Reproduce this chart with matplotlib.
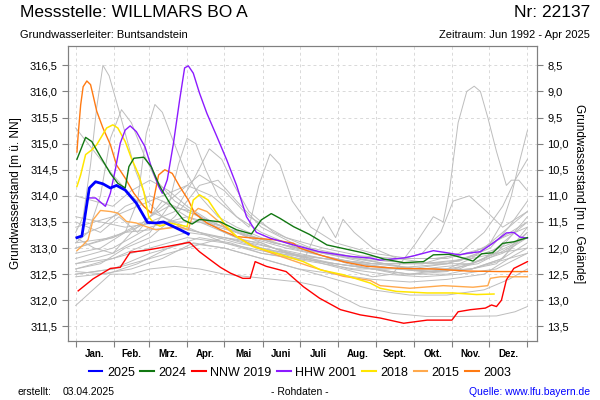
import numpy as np
import matplotlib
matplotlib.use("Agg")
import matplotlib.pyplot as plt

plt.rcParams['font.family'] = ['Liberation Sans', 'DejaVu Sans']

# Geländehöhe (m ü. NN) für die rechte Achse
gelaende = 325.0

monate = ["Jan.", "Feb.", "Mrz.", "Apr.", "Mai", "Juni", "Juli", "Aug.", "Sept.", "Okt.", "Nov.", "Dez."]
monatsgrenzen = [0, 31, 59, 90, 120, 151, 181, 212, 243, 273, 304, 334, 365]

# Hervorgehobene Jahre (Tag im Jahr, Wasserstand m ü. NN)
tage_2025 = [1, 5, 11, 16, 22, 28, 33, 40, 49, 58, 65, 71, 79, 86, 91]
werte_2025 = [313.20, 313.23, 314.15, 314.27, 314.23, 314.15, 314.20, 314.11, 313.86, 313.49, 313.48, 313.50, 313.41, 313.33, 313.27]

tage_2024 = [1, 8, 13, 20, 28, 34, 40, 43, 47, 55, 61, 68, 76, 87, 94, 100, 117, 130, 142, 150, 158, 165, 176, 189,
             203, 232, 249, 265, 281, 289, 302, 316, 321, 328, 337, 345, 354, 365]
werte_2024 = [314.70, 315.12, 315.04, 314.75, 314.43, 314.24, 314.15, 314.56, 314.72, 314.74, 314.56, 314.18, 313.86,
              313.54, 313.46, 313.55, 313.50, 313.35, 313.27, 313.54, 313.66, 313.57, 313.41, 313.26,
              313.06, 312.91, 312.79, 312.72, 312.74, 312.87, 312.88, 312.79, 312.75, 312.89, 312.91, 313.09, 313.12, 313.20]

tage_2019 = [2, 14, 28, 36, 44, 55, 74, 92, 100, 109, 117, 125, 135, 141, 145, 154, 170, 184, 197, 214, 230, 238,
             246, 265, 284, 304, 309, 319, 331, 336, 340, 344, 348, 354, 365]
werte_2019 = [312.18, 312.41, 312.61, 312.63, 312.92, 312.95, 313.03, 313.11, 312.93, 312.77, 312.63, 312.52, 312.42,
              312.42, 312.74, 312.65, 312.55, 312.26, 312.04, 311.82, 311.72, 311.69,
              311.66, 311.56, 311.62, 311.62, 311.78, 311.82, 311.85, 311.91, 311.88, 312.00, 312.39, 312.61, 312.74]

tage_2001 = [10, 16, 24, 28, 32, 36, 40, 44, 49, 56, 61, 67, 70, 74, 79, 84, 88, 91, 95, 100, 106, 114, 122, 130,
             138, 146, 157, 176, 197, 222, 238, 246, 265, 273, 289, 300, 310, 316, 327, 337, 348, 354, 359, 365]
werte_2001 = [313.96, 313.96, 313.80, 314.05, 314.50, 315.01, 315.26, 315.34, 315.23, 314.94, 314.56, 314.18, 314.05,
              314.31, 315.01, 315.84, 316.45, 316.49, 316.35, 315.97, 315.58, 315.14, 314.69, 314.20,
              313.60, 313.30, 313.19, 313.06, 312.93, 312.84, 312.81, 312.77, 312.81, 312.85, 312.95, 312.91, 312.87,
              312.90, 312.93, 313.09, 313.29, 313.30, 313.21, 313.19]

tage_2018 = [1, 4, 8, 13, 17, 21, 25, 30, 34, 40, 45, 51, 55, 59, 63, 68, 76, 84, 90, 95, 100, 107, 114, 122, 130,
             143, 162, 184, 198, 216, 238, 246, 259, 284, 305, 324, 338]
werte_2018 = [314.18, 314.40, 314.79, 314.88, 314.98, 315.14, 315.30, 315.36, 315.30, 315.04, 314.72, 314.40, 314.08,
              313.60, 313.48, 313.42, 313.48, 313.44, 313.41, 313.92, 314.02, 313.92, 313.67, 313.41, 313.22,
              313.03, 312.90, 312.74, 312.58, 312.49, 312.33, 312.23, 312.17, 312.14, 312.14, 312.11, 312.12]

tage_2015 = [1, 6, 10, 14, 20, 28, 34, 41, 49, 57, 65, 74, 84, 91, 95, 99, 106, 114, 130, 144, 162, 189, 216, 238,
             246, 270, 297, 321, 333, 335, 343, 356, 365]
werte_2015 = [312.95, 313.06, 313.16, 313.54, 313.72, 313.70, 313.67, 313.51, 313.48, 313.41, 313.35, 313.38, 313.41,
              313.35, 313.67, 313.76, 313.70, 313.54, 313.22, 313.03, 312.87, 312.65, 312.46, 312.38,
              312.28, 312.23, 312.28, 312.25, 312.28, 312.42, 312.45, 312.45, 312.45]

tage_2003 = [1, 2, 4, 6, 9, 12, 14, 17, 22, 28, 33, 40, 47, 55, 61, 64, 67, 72, 78, 84, 91, 96, 106, 117, 130, 144,
             160, 176, 181, 197, 216, 235, 262, 289, 316, 343, 365]
werte_2003 = [314.84, 315.17, 315.74, 316.09, 316.20, 316.13, 315.93, 315.62, 315.30, 314.98, 314.59, 314.34, 314.05,
              313.80, 313.67, 314.05, 314.40, 314.50, 314.43, 314.18, 313.92, 313.67, 313.48, 313.35, 313.22, 313.19,
              313.16, 313.09, 313.00, 312.87, 312.74, 312.65, 312.61, 312.60, 312.56, 312.55, 312.55]

# Übrige Jahre (grau), je Tage / Werte
grau_tage = [
    [0, 6, 12, 17, 22, 27, 33, 40, 48, 58, 70, 85, 100, 120, 140, 160, 180, 200, 220, 240, 260, 280, 300, 320, 340, 365],
    [0, 10, 20, 28, 37, 45, 55, 65, 80, 100, 130, 160, 200, 240, 280, 320, 365],
    [0, 20, 40, 50, 57, 64, 70, 78, 88, 100, 115, 130, 150, 175, 200, 230, 260, 290, 320, 345, 365],
    [0, 30, 60, 75, 83, 90, 97, 105, 115, 130, 150, 180, 220, 260, 300, 340, 365],
    [0, 30, 60, 80, 95, 108, 118, 128, 140, 160, 190, 230, 270, 310, 340, 365],
    [0, 30, 60, 90, 110, 130, 140, 148, 157, 165, 175, 190, 210, 240, 270, 300, 330, 365],
    [0, 20, 40, 60, 80, 100, 130, 160, 200, 240, 256, 275, 289, 297, 302, 306, 309, 316, 322, 327, 333, 340, 348, 352, 358, 365],
    [0, 30, 60, 90, 120, 150, 180, 210, 240, 270, 300, 320, 335, 345, 352, 358, 365],
    [0, 40, 80, 120, 160, 200, 240, 280, 310, 330, 345, 355, 365],
    [0, 30, 60, 90, 120, 160, 200, 240, 265, 280, 295, 305, 318, 332, 345, 365],
    [0, 14, 28, 45, 60, 80, 100, 120, 140, 160, 180, 200, 216, 230, 256, 283, 310, 340, 355, 365],
    [0, 10, 20, 30, 45, 60, 80, 100, 130, 160, 200, 240, 280, 320, 365],
    [0, 15, 30, 45, 60, 75, 90, 110, 140, 170, 200, 230, 260, 290, 320, 345, 365],
    [0, 20, 35, 50, 70, 90, 110, 130, 160, 190, 220, 250, 280, 310, 340, 365],
    [0, 15, 30, 45, 60, 75, 95, 120, 150, 180, 210, 240, 270, 300, 330, 365],
    [0, 20, 40, 60, 80, 100, 115, 130, 150, 175, 200, 225, 250, 275, 300, 325, 350, 365],
    [0, 30, 60, 90, 120, 150, 170, 185, 200, 210, 216, 225, 240, 260, 290, 320, 345, 365],
    [0, 30, 60, 90, 120, 150, 180, 210, 240, 270, 300, 330, 350, 365],
    [0, 30, 60, 90, 120, 150, 180, 210, 240, 270, 300, 330, 350, 365],
    [0, 40, 70, 100, 130, 160, 190, 220, 250, 280, 310, 335, 350, 365],
    [0, 25, 50, 75, 100, 125, 150, 175, 200, 225, 250, 275, 300, 325, 345, 365],
    [0, 30, 55, 80, 100, 120, 140, 170, 200, 230, 260, 290, 320, 345, 365],
    [0, 20, 45, 70, 95, 120, 150, 180, 210, 240, 270, 300, 330, 350, 365],
]
grau_werte = [
    [313.3, 313.6, 314.6, 315.7, 316.5, 316.3, 315.8, 315.2, 314.5, 313.9, 313.6, 313.4, 313.3, 313.1, 313.0, 312.9, 312.85, 312.8, 312.75, 312.7, 312.7, 312.7, 312.75, 312.8, 312.9, 313.0],
    [313.1, 313.3, 314.0, 315.1, 315.65, 315.4, 314.8, 314.3, 313.9, 313.6, 313.3, 313.1, 312.9, 312.7, 312.6, 312.7, 313.2],
    [312.9, 313.0, 313.3, 313.9, 315.2, 315.75, 315.6, 315.1, 314.5, 314.0, 313.6, 313.4, 313.2, 313.0, 312.85, 312.7, 312.6, 312.55, 312.6, 312.8, 313.4],
    [312.7, 312.9, 313.3, 313.8, 314.6, 315.1, 315.0, 314.5, 314.0, 313.6, 313.3, 313.0, 312.7, 312.5, 312.5, 312.7, 313.3],
    [313.0, 313.2, 313.5, 313.7, 314.3, 314.9, 314.7, 314.2, 313.7, 313.3, 313.0, 312.8, 312.6, 312.6, 312.9, 313.6],
    [313.4, 313.6, 313.9, 314.2, 314.0, 313.6, 313.4, 314.2, 314.8, 314.6, 313.9, 313.4, 313.1, 312.9, 312.8, 312.8, 313.0, 313.5],
    [313.2, 313.4, 313.8, 314.0, 313.8, 313.6, 313.3, 313.0, 312.7, 312.45, 312.5, 313.1, 313.6, 313.5, 314.1, 314.85, 315.4, 316.0, 316.1, 316.0, 315.5, 314.85, 314.2, 314.3, 314.3, 314.1],
    [312.6, 312.8, 313.0, 313.2, 313.1, 312.9, 312.8, 312.7, 312.6, 312.5, 312.6, 312.8, 313.1, 313.5, 314.0, 314.6, 315.25],
    [313.0, 313.3, 313.4, 313.2, 313.0, 312.8, 312.7, 312.7, 312.9, 313.3, 313.8, 314.3, 314.7],
    [312.8, 313.0, 313.4, 313.6, 313.4, 313.1, 312.9, 312.75, 312.8, 312.9, 313.3, 313.9, 314.0, 313.7, 313.4, 313.7],
    [311.9, 312.2, 312.5, 312.5, 312.6, 312.65, 312.6, 312.5, 312.45, 312.4, 312.35, 312.25, 312.05, 311.88, 311.75, 311.69, 311.69, 311.7, 311.78, 311.88],
    [315.3, 315.0, 314.7, 314.4, 314.0, 313.7, 313.5, 313.3, 313.1, 312.95, 312.8, 312.65, 312.55, 312.6, 312.9],
    [314.0, 313.9, 313.8, 314.1, 314.3, 314.1, 313.8, 313.5, 313.2, 313.0, 312.85, 312.7, 312.6, 312.55, 312.6, 312.8, 313.1],
    [313.5, 313.3, 313.6, 313.3, 313.9, 313.6, 313.4, 313.2, 313.0, 312.8, 312.6, 312.5, 312.45, 312.5, 312.6, 312.9],
    [313.2, 313.0, 312.9, 313.3, 313.6, 313.8, 313.7, 313.3, 313.0, 312.8, 312.7, 312.6, 312.6, 312.7, 312.9, 313.2],
    [312.6, 312.7, 313.0, 313.2, 313.6, 314.2, 314.3, 313.9, 313.4, 313.1, 312.9, 312.8, 312.7, 312.6, 312.6, 312.7, 313.0, 313.3],
    [312.5, 312.6, 312.8, 313.0, 313.2, 313.1, 312.9, 312.8, 313.6, 313.2, 313.55, 313.3, 313.0, 312.8, 312.7, 312.7, 312.9, 313.2],
    [312.5, 312.6, 312.9, 313.1, 313.0, 312.8, 312.6, 312.4, 312.2, 312.1, 312.1, 312.2, 312.4, 312.6],
    [312.7, 312.8, 313.1, 313.3, 313.2, 313.0, 312.85, 312.7, 312.6, 312.5, 312.55, 312.8, 313.2, 313.5],
    [313.6, 313.4, 313.5, 313.5, 313.3, 313.1, 312.95, 312.85, 312.75, 312.7, 312.75, 313.0, 313.4, 313.9],
    [312.55, 312.5, 312.7, 313.0, 313.2, 313.1, 312.9, 312.8, 312.7, 312.6, 312.6, 312.65, 312.7, 312.9, 313.3, 313.7],
    [313.1, 313.2, 313.5, 314.0, 314.4, 314.1, 313.6, 313.2, 313.0, 312.85, 312.8, 312.8, 312.9, 313.2, 313.4],
    [312.45, 312.5, 312.6, 312.8, 313.1, 313.0, 312.8, 312.6, 312.5, 312.4, 312.35, 312.4, 312.5, 312.8, 313.0],
]

fig = plt.figure(figsize=(6, 4), dpi=100)
ax = fig.add_axes([0.1138, 0.1475, 0.7807, 0.7375])

for t, w in zip(grau_tage, grau_werte):
    ax.plot(t, w, color='#bdbdbd', lw=0.7)

ax.plot(tage_2003, werte_2003, color='#ff7a12', lw=1.0, label='2003')
ax.plot(tage_2015, werte_2015, color='#ffa94d', lw=1.0, label='2015')
ax.plot(tage_2018, werte_2018, color='#ffe600', lw=1.1, label='2018')
ax.plot(tage_2001, werte_2001, color='#8c1aff', lw=1.0, label='HHW 2001')
ax.plot(tage_2019, werte_2019, color='#ff0000', lw=1.0, label='NNW 2019')
ax.plot(tage_2024, werte_2024, color='#117711', lw=1.0, label='2024')
ax.plot(tage_2025, werte_2025, color='#0000ff', lw=2.0, label='2025')

ax.set_xlim(-6, 372.5)
ax.set_ylim(311.22, 316.87)

# x-Achse: Striche an Monatsgrenzen, Beschriftung in Monatsmitte
ax.set_xticks(monatsgrenzen)
ax.set_xticklabels([])
mitten = [(monatsgrenzen[i] + monatsgrenzen[i + 1]) / 2 for i in range(12)]
ax.set_xticks(mitten, minor=True)
ax.set_xticklabels(monate, minor=True, fontsize=7, fontweight='bold')
ax.tick_params(axis='x', which='minor', length=0, pad=6)
ax.tick_params(axis='x', which='major', length=4, color='#808080')

yt = np.arange(311.5, 316.51, 0.5)
ax.set_yticks(yt)
ax.set_yticklabels([f"{v:.1f}".replace('.', ',') for v in yt], fontsize=8)
ax.tick_params(axis='y', length=4, color='#808080')
ax.set_ylabel('Grundwasserstand [m ü. NN]', fontsize=8.5, labelpad=6)

ax.grid(True, which='major', color='#d9d9d9', linestyle=(0, (3, 3)), lw=0.7)
for s in ax.spines.values():
    s.set_color('#808080')

ax2 = ax.twinx()
ax2.set_ylim(gelaende - 311.22, gelaende - 316.87)
yt2 = np.arange(8.5, 13.51, 0.5)
ax2.set_yticks(yt2)
ax2.set_yticklabels([f"{v:.1f}".replace('.', ',') for v in yt2], fontsize=8)
ax2.tick_params(axis='y', length=4, color='#808080')
ax2.set_ylabel('Grundwasserstand [m u. Gelände]', fontsize=8.5, rotation=270, labelpad=12)
for s in ax2.spines.values():
    s.set_color('#808080')

# Kopfzeilen
fig.text(0.033, 0.968, 'Messstelle: WILLMARS BO A', fontsize=12.5, ha='left', va='center')
fig.text(0.983, 0.968, 'Nr: 22137', fontsize=12.5, ha='right', va='center')
fig.text(0.033, 0.913, 'Grundwasserleiter: Buntsandstein', fontsize=8, ha='left', va='center')
fig.text(0.983, 0.913, 'Zeitraum: Jun 1992 - Apr 2025', fontsize=8, ha='right', va='center')

# Legende
h, l = ax.get_legend_handles_labels()
reihenfolge = ['2025', '2024', 'NNW 2019', 'HHW 2001', '2018', '2015', '2003']
hs = [h[l.index(n)] for n in reihenfolge]
leg = fig.legend(hs, reihenfolge, loc='center', bbox_to_anchor=(0.5, 0.068), ncol=7, frameon=False,
                 fontsize=9, handlelength=1.1, handletextpad=0.35, columnspacing=0.45)
for line in leg.get_lines():
    line.set_linewidth(1.5)

# Fußzeile
fig.text(0.03, 0.02, 'erstellt:', fontsize=7.5, ha='left', va='center')
fig.text(0.105, 0.02, '03.04.2025', fontsize=7.5, ha='left', va='center')
fig.text(0.5, 0.02, '- Rohdaten -', fontsize=7.5, ha='center', va='center')
fig.text(0.983, 0.02, 'Quelle: www.lfu.bayern.de', fontsize=7.5, ha='right', va='center', color='#0000ff')

fig.savefig('out.png', dpi=100)
